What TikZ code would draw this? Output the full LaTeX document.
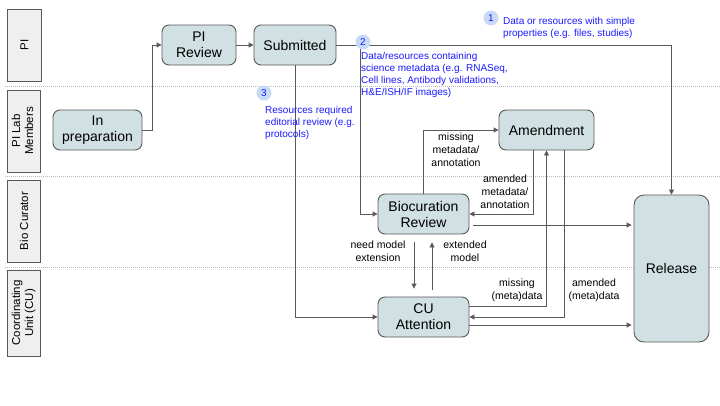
\documentclass[tikz,border=0pt]{standalone}
\usepackage{fontspec}
\setmainfont{Liberation Sans}
\usetikzlibrary{arrows.meta,calc}
\definecolor{nodefill}{HTML}{D0E0E3}
\definecolor{edgecol}{HTML}{595959}
\definecolor{lanefill}{HTML}{EFEFEF}
\definecolor{bluetxt}{HTML}{1A1AFF}
\definecolor{circfill}{HTML}{C9DAF8}
\tikzset{
  proc/.style={draw=edgecol, fill=nodefill, rounded corners=7pt, line width=0.9pt,
    align=center, font=\fontsize{14}{16}\selectfont, inner sep=0pt},
  lane/.style={draw=edgecol, fill=lanefill, line width=0.9pt, inner sep=0pt,
    align=center, font=\fontsize{11.5}{13}\selectfont},
  arr/.style={draw=edgecol, line width=0.9pt, -{Triangle[length=5pt,width=5pt]}},
  elabel/.style={align=center, font=\fontsize{10.5}{13}\selectfont, inner sep=0pt},
  note/.style={align=left, text=bluetxt, font=\fontsize{10}{12}\selectfont, inner sep=0pt, anchor=north west},
  num/.style={circle, fill=circfill, text=bluetxt, minimum size=15pt, inner sep=0pt, font=\fontsize{10}{12}\selectfont},
  sep/.style={draw=gray!55, line width=0.8pt, dash pattern=on 1pt off 1pt}
}
\begin{document}
\begin{tikzpicture}[x=1pt,y=-1pt]
\useasboundingbox (0,0) rectangle (720,405);
% separators
\draw[sep] (5,86) -- (720,86);
\draw[sep] (5,176) -- (720,176);
\draw[sep] (5,267) -- (720,267);
% lanes
\node[lane, minimum width=34pt, minimum height=72pt] (lpi) at (24.5,45) {\rotatebox{90}{PI}};
\node[lane, minimum width=33pt, minimum height=82pt] (llab) at (24,131) {\rotatebox{90}{\begin{tabular}{@{}c@{}}PI Lab\\Members\end{tabular}}};
\node[lane, minimum width=33pt, minimum height=82pt] (lbio) at (24,221) {\rotatebox{90}{Bio Curator}};
\node[lane, minimum width=33pt, minimum height=86pt] (lcu) at (24,313) {\rotatebox{90}{\begin{tabular}{@{}c@{}}Coordinating\\Unit (CU)\end{tabular}}};
% nodes
\node[proc, minimum width=74pt, minimum height=40pt] (pirev) at (199,45) {PI\\Review};
\node[proc, minimum width=82pt, minimum height=40pt] (sub) at (295,45) {Submitted};
\node[proc, minimum width=89pt, minimum height=40pt] (prep) at (97.5,130) {In\\preparation};
\node[proc, minimum width=95pt, minimum height=40pt] (amd) at (546.5,130) {Amendment};
\node[proc, minimum width=91pt, minimum height=40pt] (bio) at (423.5,214) {Biocuration\\Review};
\node[proc, minimum width=91pt, minimum height=40pt] (cu) at (423.5,317) {CU\\Attention};
\node[proc, rounded corners=10pt, minimum width=75pt, minimum height=147pt] (rel) at (671.5,268.5) {Release};
% connectors
\draw[arr] (prep.east) -- ++(10pt,0) |- (pirev.west);
\draw[arr] (pirev.east) -- (sub.west);
\draw[arr] (sub.east) -| (rel.north);
\coordinate (c2) at (360,45);
\draw[arr] (c2) |- (bio.west);
\draw[arr] (sub.south) |- (cu.west);
\draw[arr] (bio.north) |- (amd.west);
\draw[arr] ([xshift=-13.5pt]amd.south) |- (bio.east);
\draw[arr] ([yshift=11pt]cu.east) -| (amd.south);
\draw[arr] ([xshift=17.5pt]amd.south) |- (cu.east);
\coordinate (b1) at ([yshift=-11pt]bio.east);
\draw[arr] ([xshift=4pt]b1) -- ([xshift=-2pt]b1 -| rel.west);
\coordinate (b2) at ([yshift=-8pt]cu.east);
\draw[arr] (b2) -- ([xshift=-2pt]b2 -| rel.west);
\draw[arr] ([xshift=-9.5pt,yshift=-8pt]bio.south) -- ([xshift=-9.5pt,yshift=8pt]cu.north);
\draw[arr] ([xshift=8.5pt,yshift=7pt]cu.north) -- ([xshift=8.5pt,yshift=-8pt]bio.south);
% edge labels
\node[elabel] (l1) at (456,150) {missing\\metadata/\\annotation};
\node[elabel] (l2) at (505,192) {amended\\metadata/\\annotation};
\node[elabel] (l3) at (378,251) {need model\\extension};
\node[elabel] (l4) at (465,251) {extended\\model};
\node[elabel] (l5) at (517,290) {missing\\(meta)data};
\node[elabel] (l6) at (594,290) {amended\\(meta)data};
% notes
\node[num] (n1) at (491,18) {1};
\node[note] (t1) at (503,17) {Data or resources with simple\\properties (e.g. files, studies)};
\node[num] (n2) at (363,42) {2};
\node[note] (t2) at (361,52) {Data/resources containing\\science metadata (e.g. RNASeq,\\Cell lines, Antibody validations,\\H\&E/ISH/IF images)};
\node[num] (n3) at (264,93) {3};
\node[note] (t3) at (265,106) {Resources required\\editorial review (e.g.\\protocols)};
\end{tikzpicture}
\end{document}
